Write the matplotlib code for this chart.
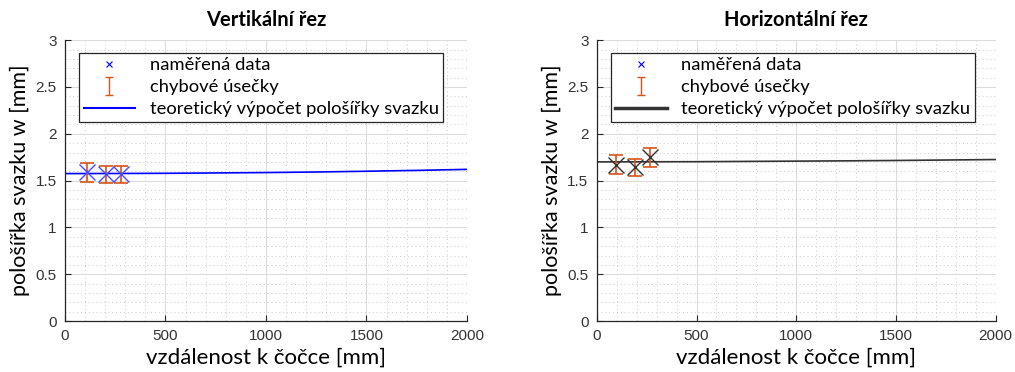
import numpy as np
import matplotlib
matplotlib.use("Agg")
import matplotlib.pyplot as plt
from matplotlib.lines import Line2D
from matplotlib.ticker import MultipleLocator

# namerene body (vzdalenost od cocky v mm, polosirka v mm, chyba)
z_vert = [110, 205, 280]
w_vert = [1.588, 1.566, 1.566]
err_vert = [0.105, 0.095, 0.095]

z_hor = [95, 190, 265]
w_hor = [1.67, 1.64, 1.75]
err_hor = [0.10, 0.095, 0.10]

# teoreticka krivka polosirky svazku
z_teor = [0, 250, 500, 750, 1000, 1250, 1500, 1750, 2000]
w_teor_vert = [1.575, 1.576, 1.578, 1.582, 1.586, 1.592, 1.600, 1.609, 1.620]
w_teor_hor = [1.700, 1.701, 1.702, 1.705, 1.708, 1.711, 1.715, 1.720, 1.725]

xticks = [0, 500, 1000, 1500, 2000]
yticks = [0, 0.5, 1, 1.5, 2, 2.5, 3]

orange = '#D95319'
txt_font = ['Lato', 'DejaVu Sans']
num_font = 'Liberation Sans'

fig = plt.figure(figsize=(10.15, 3.72), dpi=100)
ax1 = fig.add_axes([0.064, 0.137, 0.396, 0.755])
ax2 = fig.add_axes([0.588, 0.137, 0.393, 0.755])


def nakresli(ax, z, w, err, w_teor, title, line_col, mark_col, line_lw, leg_lw):
    ax.plot(z_teor, w_teor, color=line_col, lw=line_lw, zorder=2)
    ax.errorbar(z, w, yerr=err, fmt='none', ecolor=orange, elinewidth=1.2,
                capsize=5, capthick=1.2, zorder=3)
    ax.plot(z, w, 'x', color=mark_col, ms=11, mew=1.0, zorder=4)

    ax.set_xlim(0, 2000)
    ax.set_ylim(0, 3)
    ax.set_xticks(xticks)
    ax.set_yticks(yticks)
    ax.set_yticklabels(['0', '0.5', '1', '1.5', '2', '2.5', '3'])
    ax.xaxis.set_minor_locator(MultipleLocator(100))
    ax.yaxis.set_minor_locator(MultipleLocator(0.1))
    ax.grid(True, which='major', color='#dcdcdc', lw=0.8)
    ax.grid(True, which='minor', color='#c8c8c8', lw=0.7, ls=(0, (1, 3)))
    ax.set_axisbelow(True)
    for s in ['top', 'right']:
        ax.spines[s].set_visible(False)
    for s in ['left', 'bottom']:
        ax.spines[s].set_color('#262626')
        ax.spines[s].set_linewidth(0.9)
    ax.tick_params(which='major', direction='in', length=4, color='#262626',
                   labelsize=11, labelcolor='#333333', pad=6)
    ax.tick_params(which='minor', length=0)
    for lab in ax.get_xticklabels() + ax.get_yticklabels():
        lab.set_family(num_font)

    ax.set_title(title, fontsize=14.5, fontweight='bold', family=txt_font, pad=10)
    ax.set_xlabel('vzdálenost k čočce [mm]', fontsize=16, family=txt_font, labelpad=3)
    ax.set_ylabel('pološířka svazku w [mm]', fontsize=15.5, family=txt_font, labelpad=4)

    # ikona chybove usecky do legendy
    eb_leg = ax.errorbar([np.nan], [np.nan], yerr=[0.1], fmt='none', ecolor=orange,
                         elinewidth=1.0, capsize=3, capthick=1.0)
    handles = [
        Line2D([], [], ls='none', marker='x', color='blue', ms=5, mew=0.8),
        eb_leg,
        Line2D([], [], color=line_col, lw=leg_lw),
    ]
    labels = ['naměřená data', 'chybové úsečky',
              'teoretický výpočet pološířky svazku']
    leg = ax.legend(handles, labels, loc='upper left', bbox_to_anchor=(0.035, 0.955),
                    prop={'family': txt_font, 'size': 13.2}, frameon=True,
                    fancybox=False, edgecolor='#262626', framealpha=1,
                    borderpad=0.25, labelspacing=0.32, handlelength=2.8,
                    handletextpad=0.8, borderaxespad=0)
    leg.get_frame().set_linewidth(0.9)


nakresli(ax1, z_vert, w_vert, err_vert, w_teor_vert, 'Vertikální řez',
         'blue', '#4d4dff', 1.2, 1.5)
nakresli(ax2, z_hor, w_hor, err_hor, w_teor_hor, 'Horizontální řez',
         '#333333', '#333333', 1.2, 2.5)

fig.savefig('out.png', dpi=100)
